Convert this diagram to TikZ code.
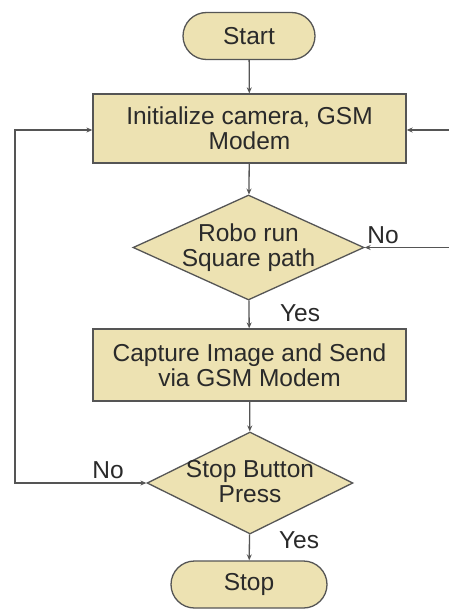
\documentclass[tikz,border=0pt]{standalone}
\usepackage{fontspec}
\setmainfont{Liberation Sans}
\usetikzlibrary{shapes.misc,shapes.geometric,arrows.meta}
\definecolor{boxfill}{HTML}{EDE2B2}
\definecolor{linec}{HTML}{555555}
\definecolor{textc}{HTML}{2A2A2A}
\tikzset{
  every node/.style={font=\fontsize{24.5}{25}\selectfont, text=textc},
  term/.style={rounded rectangle, draw=linec, line width=1.3pt, fill=boxfill, minimum width=132pt, minimum height=47pt, inner sep=0pt},
  procbox/.style={rectangle, draw=linec, line width=1.3pt, fill=boxfill, inner sep=0pt, align=center},
  decision/.style={diamond, draw=linec, line width=1.3pt, fill=boxfill, inner sep=0pt},
  conn/.style={draw=linec, line width=1.3pt, -{Stealth[length=6pt,width=5pt]}},
  conn2/.style={draw=linec, line width=1.3pt, {Stealth[length=6pt,width=5pt]}-{Stealth[length=6pt,width=5pt]}},
  lbl/.style={inner sep=0pt}
}
\begin{document}
\begin{tikzpicture}[x=1pt,y=-1pt]
\useasboundingbox[fill=white] (0,0) rectangle (448,610);
\node[term] (start) at (249,36) {Start};
\node[procbox, minimum width=313pt, minimum height=69pt] (init) at (249.5,128.5) {Initialize camera, GSM\\Modem};
\node[decision, minimum width=231pt, minimum height=105pt, label={[align=center,lbl]center:Robo run\\Square path}] (d1) at (248.5,247.5) {};
\node[procbox, minimum width=313pt, minimum height=72pt] (cap) at (249.5,365) {Capture Image and Send\\via GSM Modem};
\node[decision, minimum width=206pt, minimum height=102pt, label={[align=center,lbl,yshift=1.5pt]center:Stop Button\\Press}] (d2) at (250,483) {};
\node[term, minimum width=156pt] (stop) at (249,584.5) {Stop};

\coordinate (r1) at (453,247.5);
\coordinate (r2) at (453,130);
\coordinate (l1) at (15,483);
\coordinate (l2) at (15,130);

\draw[conn] (start) -- (init);
\draw[conn] (init) -- (d1);
\draw[conn] (d1) -- (cap);
\draw[conn] (cap) -- (d2);
\draw[conn] (d2) -- (stop);
\draw[conn2] (d1.east) -- (r1) -- (r2) -- (init.east |- r2);
\draw[conn2] (d2.west) -- (l1) -- (l2) -- (init.west |- l2);
\node[lbl] (yes1) at (300,313) {Yes};
\node[lbl] (yes2) at (299,540) {Yes};
\node[lbl] (no1) at (383,235) {No};
\node[lbl] (no2) at (108,470) {No};
\end{tikzpicture}
\end{document}
